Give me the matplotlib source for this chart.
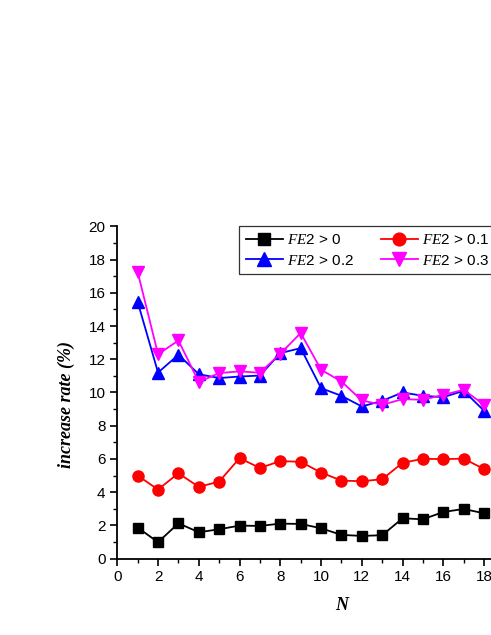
import numpy as np
import matplotlib.pyplot as plt
from matplotlib.ticker import MultipleLocator

plt.rcParams['font.family'] = ['Liberation Sans', 'DejaVu Sans']
plt.rcParams['mathtext.fontset'] = 'custom'
plt.rcParams['mathtext.it'] = 'Liberation Serif:italic'
plt.rcParams['mathtext.rm'] = 'Liberation Sans'

N = np.arange(1, 19)
fe2_0 = [1.87, 0.99, 2.13, 1.59, 1.77, 1.99, 1.97, 2.11, 2.09, 1.83,
         1.43, 1.37, 1.41, 2.43, 2.37, 2.81, 2.99, 2.73]
fe2_01 = [5.00, 4.16, 5.14, 4.32, 4.64, 6.05, 5.46, 5.87, 5.83, 5.18,
          4.70, 4.66, 4.78, 5.77, 6.01, 5.99, 6.02, 5.39]
fe2_02 = [15.45, 11.2, 12.27, 11.1, 10.87, 10.96, 11.02, 12.37, 12.67, 10.26,
          9.8, 9.16, 9.5, 10.0, 9.8, 9.72, 10.1, 8.9]
fe2_03 = [17.25, 12.3, 13.13, 10.63, 11.17, 11.27, 11.19, 12.33, 13.58, 11.37,
          10.66, 9.52, 9.26, 9.6, 9.56, 9.86, 10.16, 9.26]

labels = [r'$\it{FE2}$ > 0', r'$\it{FE2}$ > 0.1', r'$\it{FE2}$ > 0.2', r'$\it{FE2}$ > 0.3']

fig = plt.figure(figsize=(4.91, 6.35), dpi=100)
ax = fig.add_axes([0.2389, 0.1202, 0.83, 0.5234])

l0, = ax.plot(N, fe2_0, color='black', marker='s', ms=7.5, lw=1.3, label=labels[0])
l1, = ax.plot(N, fe2_01, color='red', marker='o', ms=8, lw=1.3, label=labels[1])
l2, = ax.plot(N, fe2_02, color='blue', marker='^', ms=9, lw=1.3, label=labels[2])
l3, = ax.plot(N, fe2_03, color='magenta', marker='v', ms=9, lw=1.3, label=labels[3])

ax.set_xlim(0, 20)
ax.set_ylim(0, 20)
ax.xaxis.set_major_locator(MultipleLocator(2))
ax.xaxis.set_minor_locator(MultipleLocator(1))
ax.yaxis.set_major_locator(MultipleLocator(2))
ax.yaxis.set_minor_locator(MultipleLocator(1))
ax.tick_params(which='major', direction='out', length=5, width=1.2, labelsize=11)
ax.tick_params(which='minor', direction='out', length=3, width=1.0)
ax.spines['top'].set_visible(False)
ax.spines['right'].set_visible(False)
ax.spines['left'].set_linewidth(1.3)
ax.spines['bottom'].set_linewidth(1.3)

ax.set_xlabel('N', family='Liberation Serif', style='italic', weight='bold', fontsize=13)
ax.set_ylabel('increase rate (%)', family='Liberation Serif', style='italic', weight='bold', fontsize=13)
ax.xaxis.set_label_coords(0.551, -0.115)
ax.yaxis.set_label_coords(-0.103, 0.465)

# row-major order like the original: >0, >0.1 on top row
leg = ax.legend([l0, l2, l1, l3], [labels[0], labels[2], labels[1], labels[3]],
                ncol=2, loc='upper left', bbox_to_anchor=(0.299, 1.0), borderaxespad=0,
                fontsize=11, frameon=True, fancybox=False, edgecolor='black',
                handlelength=2.4, borderpad=0.45, labelspacing=0.42, columnspacing=1.75,
                handletextpad=0.3, markerscale=1.15)
leg.get_frame().set_linewidth(0.9)

fig.savefig('out.png', dpi=100)
